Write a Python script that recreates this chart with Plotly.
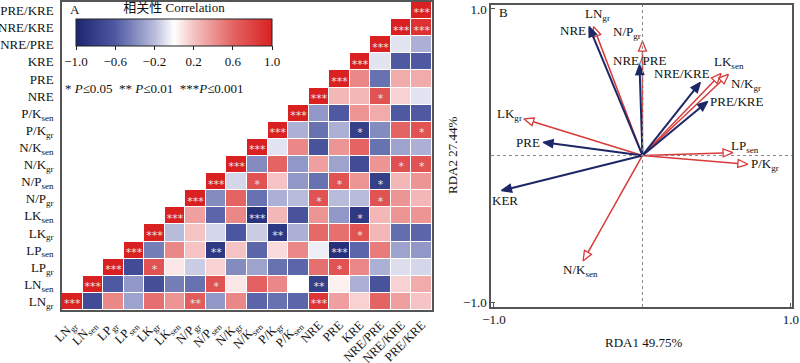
import plotly.graph_objects as go
import numpy as np

# ---------------- data ----------------
var_labels = ["LN<sub>gr</sub>", "LN<sub>sen</sub>", "LP<sub>gr</sub>", "LP<sub>sen</sub>",
              "LK<sub>gr</sub>", "LK<sub>sen</sub>", "N/P<sub>gr</sub>", "N/P<sub>sen</sub>",
              "N/K<sub>gr</sub>", "N/K<sub>sen</sub>", "P/K<sub>gr</sub>", "P/K<sub>sen</sub>",
              "NRE", "PRE", "KRE", "NRE/PRE", "NRE/KRE", "PRE/KRE"]

# correlation values: row r lists columns r..17
corr_upper = [
    [1, -0.70, 0.45, -0.30, 0.55, 0.40, 0.65, -0.35, 0.45, -0.55, -0.50, -0.55, 0.88, 0.35, 0.15, 0.60, 0.35, 0.20],
    [1, -0.60, -0.35, -0.68, -0.45, -0.50, 0.70, 0.08, 0.62, 0.45, 0.0, -0.80, 0.05, -0.25, -0.65, 0.15, 0.30],
    [1, -0.70, 0.70, 0.08, -0.15, 0.15, -0.40, -0.30, -0.50, -0.55, 0.55, 0.70, 0.45, -0.25, -0.10, -0.12],
    [1, -0.45, 0.45, 0.20, -0.85, 0.20, -0.55, 0.12, 0.45, -0.05, -0.92, -0.55, 0.50, -0.30, -0.35],
    [1, -0.20, 0.20, -0.12, -0.62, -0.15, -0.85, -0.25, 0.58, 0.55, 0.70, 0.25, -0.52, -0.55],
    [1, 0.35, -0.55, 0.45, -0.90, 0.25, -0.65, 0.40, -0.35, -0.85, 0.25, 0.40, 0.40],
    [1, -0.40, 0.60, -0.50, -0.25, -0.20, 0.70, -0.20, -0.20, 0.70, 0.40, 0.25],
    [1, -0.12, 0.70, 0.20, -0.35, -0.50, 0.70, 0.40, -0.80, 0.25, 0.40],
    [1, -0.40, 0.60, -0.35, 0.35, -0.30, -0.70, 0.40, 0.72, 0.70],
    [1, -0.08, 0.45, -0.65, 0.40, 0.60, -0.50, -0.30, -0.25],
    [1, -0.25, -0.50, -0.25, -0.80, -0.40, 0.60, 0.70],
    [1, -0.35, -0.60, 0.40, 0.30, -0.60, -0.60],
    [1, 0.25, 0.25, 0.70, 0.15, -0.08],
    [1, 0.45, -0.50, 0.30, 0.30],
    [1, -0.08, -0.60, -0.60],
    [1, -0.08, -0.25],
    [1, 0.90],
    [1],
]

# significance marks per row: {column: stars}
sig_marks = [
    {0: "***", 6: "**", 12: "***"},
    {1: "***", 7: "*", 12: "**"},
    {2: "***", 4: "*", 13: "*"},
    {3: "***", 7: "**", 13: "***"},
    {4: "***", 10: "**", 14: "*"},
    {5: "***", 9: "***", 14: "*"},
    {6: "***", 12: "*", 15: "*"},
    {7: "***", 9: "*", 13: "*", 15: "*"},
    {8: "***", 16: "*", 17: "*"},
    {9: "***"},
    {10: "***", 14: "*", 17: "*"},
    {11: "***"},
    {12: "***", 15: "*"},
    {13: "***"},
    {14: "***"},
    {15: "***"},
    {16: "***", 17: "***"},
    {17: "***"},
]

# RDA loadings
resp_names = ["LN<sub>gr</sub>", "N/P<sub>gr</sub>", "LK<sub>sen</sub>", "N/K<sub>gr</sub>",
              "LP<sub>sen</sub>", "P/K<sub>gr</sub>", "LK<sub>gr</sub>", "N/K<sub>sen</sub>"]
resp_x = [-0.33, 0.00, 0.53, 0.58, 0.61, 0.71, -0.80, -0.40]
resp_y = [0.88, 0.78, 0.56, 0.555, 0.02, -0.06, 0.25, -0.72]
expl_names = ["NRE", "NRE/PRE", "NRE/KRE", "PRE/KRE", "PRE", "KER"]
expl_x = [-0.36, -0.02, 0.39, 0.44, -0.67, -0.95]
expl_y = [0.88, 0.62, 0.50, 0.37, 0.09, -0.24]

# label offsets (pixels) for RDA labels
resp_off = [(4, -12), (-15, -9), (8, -11), (17, 10), (12, -6), (17, 0), (-14, -4), (-3, 10)]
expl_off = [(-16, 4), (0, -4), (-18, -9), (29, 0), (-15, 0), (4, 10)]

# ---------------- layout geometry ----------------
W, H = 800, 363
SERIF = "Liberation Serif, Times New Roman, serif"
RED = "#d83a3a"
NAVY = "#1d2766"

n = len(var_labels)
z = [[None] * n for _ in range(n)]
for r, row in enumerate(corr_upper):
    for k, v in enumerate(row):
        z[r][r + k] = v

colorscale = [[0.0, "#1c2670"], [0.2, "#4f59a2"], [0.4, "#b8bcdb"], [0.5, "#ffffff"],
              [0.6, "#f5c3c3"], [0.8, "#e46464"], [1.0, "#d92121"]]

fig = go.Figure()
fig.add_trace(go.Heatmap(
    z=z, x=list(range(n)), y=list(range(n)), zmin=-1, zmax=1,
    colorscale=colorscale, xgap=1, ygap=1, hoverongaps=False,
    xaxis="x", yaxis="y",
    colorbar=dict(orientation="h", x=174 / W, xanchor="center", y=(H - 4) / H, yanchor="top",
                  lenmode="pixels", len=196, thickness=27, xpad=0, ypad=0,
                  outlinewidth=1, outlinecolor="#222",
                  tickvals=[-1, -0.6, -0.2, 0.2, 0.6, 1.0],
                  ticktext=["\u22121.0", "\u22120.6", "\u22120.2", "0.2", "0.6", "1.0"],
                  ticks="outside", ticklen=4, tickcolor="#222",
                  tickfont=dict(family=SERIF, size=13, color="#111"),
                  title=dict(text="相关性 Correlation", side="top",
                             font=dict(family="Liberation Serif, Noto Sans CJK SC", size=13, color="#111")))
))

sx, sy, st = [], [], []
for r, marks in enumerate(sig_marks):
    for c, s in marks.items():
        sx.append(c)
        sy.append(r - 0.18)
        st.append(s)
fig.add_trace(go.Scatter(x=sx, y=sy, text=st, mode="text", xaxis="x", yaxis="y",
                         textfont=dict(family="DejaVu Sans", size=11, color="#e6e6e6"),
                         showlegend=False, hoverinfo="skip"))

# RDA panel
x2_dom = [491 / W, 792 / W]
y2_dom = [(H - 307) / H, (H - 5) / H]
x2_rng = [-1.02, 1.007]
y2_rng = [-1.034, 1.027]
px_per_x = (x2_dom[1] - x2_dom[0]) * W / (x2_rng[1] - x2_rng[0])
px_per_y = (y2_dom[1] - y2_dom[0]) * H / (y2_rng[1] - y2_rng[0])

annotations = []


def add_arrow(xt, yt, color, filled, lw):
    dxp, dyp = xt * px_per_x, yt * px_per_y
    Lp = np.hypot(dxp, dyp)
    ux, uy = dxp / Lp, dyp / Lp
    hl, hw = 10, 4.0
    bx, by = dxp - ux * hl, dyp - uy * hl
    fig.add_trace(go.Scatter(x=[0, bx / px_per_x], y=[0, by / px_per_y], mode="lines",
                             line=dict(color=color, width=lw), xaxis="x2", yaxis="y2",
                             showlegend=False, hoverinfo="skip"))
    p1 = (bx - uy * hw, by + ux * hw)
    p2 = (bx + uy * hw, by - ux * hw)
    tx = [dxp, p1[0], p2[0], dxp]
    ty = [dyp, p1[1], p2[1], dyp]
    fig.add_trace(go.Scatter(x=[v / px_per_x for v in tx], y=[v / px_per_y for v in ty],
                             mode="lines", fill="toself" if filled else None,
                             fillcolor=color if filled else None,
                             line=dict(color=color, width=1.3), xaxis="x2", yaxis="y2",
                             showlegend=False, hoverinfo="skip"))


for name, xv, yv, off in zip(resp_names, resp_x, resp_y, resp_off):
    add_arrow(xv, yv, RED, False, 1.5)
    annotations.append(dict(x=xv, y=yv, xref="x2", yref="y2", text=name, showarrow=False,
                            xanchor="center", yanchor="middle",
                            xshift=off[0], yshift=-off[1], font=dict(family=SERIF, size=13, color="#111")))
for name, xv, yv, off in zip(expl_names, expl_x, expl_y, expl_off):
    add_arrow(xv, yv, NAVY, True, 2)
    annotations.append(dict(x=xv, y=yv, xref="x2", yref="y2", text=name, showarrow=False,
                            xanchor="center", yanchor="middle",
                            xshift=off[0], yshift=-off[1], font=dict(family=SERIF, size=13, color="#111")))

annotations += [
    dict(x=68 / W, y=(H - 10) / H, xref="paper", yref="paper", text="A", showarrow=False,
         xanchor="left", yanchor="middle", font=dict(family=SERIF, size=13, color="#111")),
    dict(x=497 / W, y=(H - 12) / H, xref="paper", yref="paper", text="B", showarrow=False,
         xanchor="left", yanchor="middle", font=dict(family=SERIF, size=13, color="#111")),
    dict(x=63 / W, y=(H - 88) / H, xref="paper", yref="paper", xanchor="left", yanchor="middle",
         text="* <i>P</i>≤0.05  ** <i>P</i>≤0.01  ***<i>P</i>≤0.001", showarrow=False,
         font=dict(family=SERIF, size=13, color="#111")),
    dict(x=643 / W, y=(H - 342) / H, xref="paper", yref="paper", text="RDA1 49.75%",
         xanchor="center", yanchor="middle",
         showarrow=False, font=dict(family=SERIF, size=13, color="#111")),
    dict(x=452 / W, y=(H - 155) / H, xref="paper", yref="paper", text="RDA2 27.44%",
         xanchor="center", yanchor="middle",
         textangle=-90, showarrow=False, font=dict(family=SERIF, size=13, color="#111")),
]

shapes = [
    dict(type="line", xref="x2", yref="y2", x0=0, x1=0, y0=y2_rng[0], y1=y2_rng[1],
         line=dict(color="#888", width=1, dash="dot")),
    dict(type="line", xref="x2", yref="y2", x0=x2_rng[0], x1=x2_rng[1], y0=0, y1=0,
         line=dict(color="#888", width=1, dash="dot")),
]

tickfont = dict(family=SERIF, size=13, color="#111")
fig.update_layout(
    template="none",
    width=W, height=H, margin=dict(l=0, r=0, t=0, b=0, autoexpand=False),
    paper_bgcolor="white", plot_bgcolor="white", showlegend=False,
    xaxis=dict(domain=[62 / W, 432 / W], range=[-0.5, n - 0.5], tickvals=list(range(n)),
               ticktext=var_labels, tickangle=-45, showline=True, mirror=True, linecolor="#555",
               linewidth=1.5, showgrid=False, zeroline=False, ticks="",
               tickfont=dict(family=SERIF, size=12.5, color="#111"),
               ticklabelstandoff=1),
    yaxis=dict(domain=[(H - 310) / H, (H - 2) / H], range=[-0.5, n - 0.5], tickvals=list(range(n)),
               ticktext=var_labels, showline=True, mirror=True, linecolor="#555", linewidth=1.5,
               showgrid=False, zeroline=False, ticks="", tickfont=tickfont, ticklabelstandoff=4),
    xaxis2=dict(domain=x2_dom, range=x2_rng, anchor="y2", tickvals=[-1, 1],
                ticktext=["\u22121.0", "1.0"], ticks="inside", ticklen=4, tickcolor="#555",
                showline=True, mirror=True, linecolor="#555", linewidth=1.5, showgrid=False,
                zeroline=False, tickfont=tickfont, ticklabeloverflow="allow"),
    yaxis2=dict(domain=y2_dom, range=y2_rng, anchor="x2", tickvals=[-1, 1],
                ticktext=["\u22121.0", "1.0"], ticks="inside", ticklen=4, tickcolor="#555",
                showline=True, mirror=True, linecolor="#555", linewidth=1.5, showgrid=False,
                zeroline=False, tickfont=tickfont, ticklabeloverflow="allow"),
    annotations=annotations, shapes=shapes,
)

fig.write_html("out.html", config={"displayModeBar": False},
               post_script="document.body.style.margin='0';document.body.style.overflow='hidden';")
